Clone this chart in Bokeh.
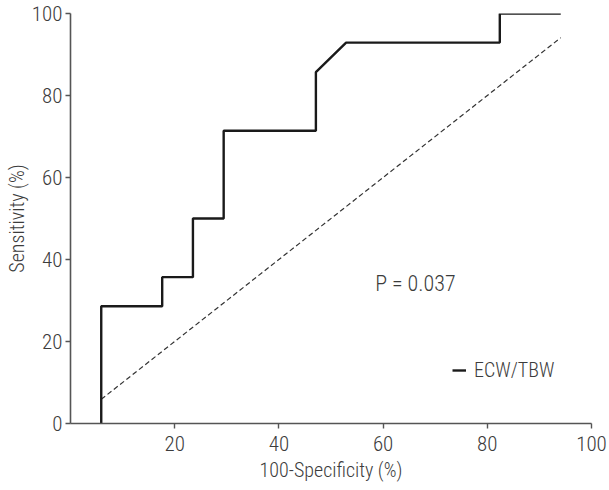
from bokeh.plotting import figure
from bokeh.models import Range1d, FixedTicker, Legend, LegendItem
from bokeh.core.properties import value
from bokeh.embed import file_html
from bokeh.resources import INLINE

# ROC curve (100-Specificity vs Sensitivity)
fpr = [5.9, 5.9, 17.6, 17.6, 23.5, 23.5, 29.4, 29.4, 47.1, 47.1, 52.9, 82.4, 82.4, 94.1]
tpr = [0.0, 28.6, 28.6, 35.7, 35.7, 50.0, 50.0, 71.4, 71.4, 85.7, 92.9, 92.9, 100.0, 100.0]
ref_x = [5.9, 94.1]
ref_y = [5.9, 94.1]
x_ticks = [20, 40, 60, 80, 100]
y_ticks = [0, 20, 40, 60, 80, 100]
series_name = "ECW/TBW"
p_text = ["P = 0.037"]
p_text_x = [66.2]
p_text_y = [34.1]

FONT = "Roboto Condensed Light, Roboto Condensed, sans-serif"
TXT = "#3c3c3c"

p = figure(width=609, height=490, output_backend="svg", toolbar_location=None,
           x_range=Range1d(0, 100), y_range=Range1d(0, 100),
           min_border_left=70, min_border_right=18, min_border_top=13, min_border_bottom=67)
p.outline_line_color = None
p.xgrid.visible = False
p.ygrid.visible = False

p.xaxis.ticker = FixedTicker(ticks=x_ticks)
p.yaxis.ticker = FixedTicker(ticks=y_ticks)
for ax in (p.xaxis, p.yaxis):
    ax.axis_line_color = "#555555"
    ax.axis_line_width = 1.6
    ax.major_tick_line_color = "#555555"
    ax.major_tick_line_width = 1.4
    ax.major_tick_out = 5
    ax.major_tick_in = 0
    ax.minor_tick_line_color = None
    ax.major_label_text_font = FONT
    ax.major_label_text_font_size = "21px"
    ax.major_label_text_color = TXT
    ax.axis_label_text_font = FONT
    ax.axis_label_text_font_size = "20px"
    ax.axis_label_text_font_style = "normal"
    ax.axis_label_text_color = TXT
p.xaxis.major_label_standoff = 7
p.yaxis.major_label_standoff = 3
p.xaxis.axis_label = "100-Specificity (%)"
p.yaxis.axis_label = "Sensitivity (%)"
p.xaxis.axis_label_standoff = 4
p.yaxis.axis_label_standoff = 0

p.line(ref_x, ref_y, line_color="#333333", line_width=1.2, line_dash="5 3")
roc = p.line(fpr, tpr, line_color="#1a1a1a", line_width=2.4)

p.text(x=p_text_x, y=p_text_y, text=p_text, text_font=value(FONT), text_font_size="22px",
       text_color=TXT, text_align="center", text_baseline="middle")

legend = Legend(items=[LegendItem(label=series_name, renderers=[roc])],
                location=(382, 41), glyph_width=14, glyph_height=20, label_height=20,
                label_standoff=8, padding=0, margin=0, spacing=0,
                border_line_color=None, background_fill_alpha=0,
                label_text_font=FONT, label_text_font_size="20px", label_text_color=TXT)
p.add_layout(legend, "center")

open("out.html", "w").write(file_html(p, INLINE))
